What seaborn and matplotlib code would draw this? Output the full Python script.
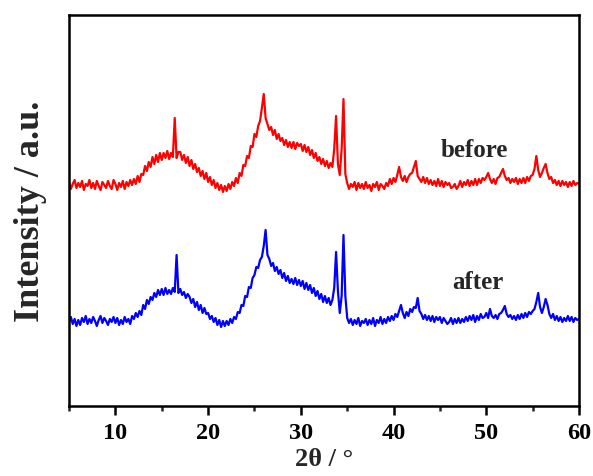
import numpy as np
import pandas as pd
import matplotlib
matplotlib.use("Agg")
import matplotlib.pyplot as plt
from matplotlib.ticker import MultipleLocator
import seaborn as sns

# 2-theta grid of the scans (degrees), 0.2 degree step from 5 to 60
two_theta = np.round(np.arange(5.0, 60.0001, 0.2), 1)

# Diffraction intensity (a.u.) of the sample before use, one row per degree
before = [
    88, 81, 86, 90, 82,
    87, 83, 89, 80, 86,
    84, 90, 82, 87, 81,
    89, 84, 80, 88, 85,
    82, 89, 84, 81, 90,
    86, 80, 87, 83, 89,
    81, 88, 84, 90, 85,
    91, 86, 94, 88, 96,
    95, 104, 99, 108, 103,
    113, 106, 115, 108, 117,
    110, 117, 112, 119, 111,
    117, 113, 152, 112, 118,
    118, 110, 115, 107, 113,
    104, 110, 101, 106, 98,
    102, 94, 99, 91, 97,
    88, 93, 85, 90, 82,
    87, 80, 85, 78, 84,
    79, 86, 81, 88, 84,
    92, 87, 97, 94, 105,
    104, 114, 112, 124, 123,
    136, 133, 144, 149, 162,
    176, 152, 146, 140, 143,
    135, 140, 131, 136, 129,
    132, 125, 130, 123, 128,
    122, 128, 121, 127, 124,
    126, 119, 125, 118, 123,
    115, 120, 112, 117, 109,
    113, 106, 111, 104, 109,
    102, 107, 103, 121, 154,
    106, 95, 121, 171, 96,
    87, 81, 86, 83, 88,
    80, 87, 82, 86, 81,
    88, 82, 85, 79, 86,
    83, 88, 80, 86, 84,
    81, 87, 84, 91, 86,
    92, 88, 95, 103, 93,
    89, 94, 88, 93, 96,
    97, 103, 109, 94, 91,
    88, 93, 87, 92, 86,
    90, 85, 89, 84, 91,
    84, 89, 83, 88, 85,
    87, 82, 83, 86, 81,
    84, 89, 83, 88, 85,
    90, 84, 89, 85, 91,
    85, 91, 87, 92, 90,
    93, 97, 91, 87, 91,
    86, 92, 93, 97, 101,
    94, 90, 92, 87, 91,
    88, 92, 86, 91, 87,
    92, 87, 93, 89, 94,
    95, 101, 114, 100, 93,
    97, 102, 106, 97, 91,
    93, 87, 90, 85, 89,
    84, 89, 85, 88, 83,
    88, 84, 89, 85, 87,
    86,
]

# Diffraction intensity (a.u.) of the sample after use
after = [
    84, 89, 82, 87, 80,
    86, 81, 88, 84, 90,
    82, 87, 83, 89, 85,
    80, 86, 90, 83, 88,
    85, 81, 87, 84, 89,
    83, 88, 81, 86, 82,
    89, 84, 87, 82, 90,
    87, 93, 89, 95, 91,
    101, 97, 106, 102, 109,
    106, 113, 109, 116, 111,
    117, 111, 118, 112, 116,
    112, 118, 114, 151, 113,
    117, 111, 114, 108, 112,
    109, 103, 107, 99, 104,
    96, 101, 93, 98, 92,
    93, 87, 90, 84, 88,
    81, 86, 79, 85, 80,
    85, 81, 87, 83, 89,
    87, 94, 93, 101, 100,
    110, 109, 119, 118, 128,
    131, 139, 138, 146, 149,
    160, 176, 151, 147, 140,
    143, 135, 139, 132, 136,
    128, 133, 125, 130, 123,
    127, 122, 128, 121, 126,
    120, 125, 117, 123, 116,
    121, 113, 118, 110, 115,
    107, 112, 104, 110, 103,
    108, 101, 106, 118, 154,
    115, 93, 110, 171, 110,
    88, 83, 87, 81, 86,
    82, 88, 80, 85, 83,
    87, 81, 86, 82, 88,
    80, 86, 83, 89, 82,
    87, 83, 89, 85, 90,
    86, 92, 89, 95, 101,
    93, 88, 94, 90, 97,
    94, 99, 98, 108, 95,
    92, 87, 91, 86, 90,
    85, 90, 84, 89, 86,
    89, 83, 88, 85, 82,
    84, 88, 82, 87, 83,
    88, 83, 87, 84, 89,
    85, 90, 86, 91, 84,
    90, 86, 92, 88, 89,
    93, 88, 97, 90, 88,
    91, 87, 92, 93, 96,
    100, 92, 89, 91, 87,
    90, 86, 91, 87, 92,
    88, 93, 89, 94, 92,
    95, 97, 104, 113, 99,
    93, 99, 107, 101, 92,
    88, 92, 86, 90, 85,
    89, 84, 88, 85, 90,
    85, 89, 84, 88, 86,
    87,
]

labels = ["before", "after"]
# vertical stacking of the patterns
stack_offset = {"before": 136, "after": 0}
colors = {"before": "#ff0000", "after": "#0000ff"}

sns.set_style("ticks")
plt.rcParams["font.family"] = ["Liberation Serif", "DejaVu Serif"]
plt.rcParams["font.weight"] = "bold"

fig = plt.figure(figsize=(5.93, 4.77), dpi=100)
ax = fig.add_axes([0.1164, 0.1468, 0.86, 0.8197])

frames = []
for name, series in zip(labels, [before, after]):
    frames.append(pd.DataFrame({
        "two_theta": two_theta,
        "intensity": np.asarray(series, dtype=float) + stack_offset[name],
        "sample": name,
    }))
df = pd.concat(frames, ignore_index=True)

for name in labels:
    sub = df[df["sample"] == name]
    sns.lineplot(data=sub, x="two_theta", y="intensity", color=colors[name],
                 linewidth=1.6, estimator=None, sort=False, ax=ax, legend=False)

ax.set_xlim(5, 60)
ax.set_ylim(0, 391)
ax.set_yticks([])
ax.xaxis.set_major_locator(MultipleLocator(10))
ax.xaxis.set_minor_locator(MultipleLocator(5))
ax.tick_params(axis="x", which="major", direction="out", length=6.5, width=1.8,
               labelsize=17.5, pad=5, colors="black")
ax.tick_params(axis="x", which="minor", direction="out", length=3.6, width=1.8)
for lab in ax.get_xticklabels():
    lab.set_fontweight("bold")
for side in ["left", "right", "top", "bottom"]:
    ax.spines[side].set_visible(True)
    ax.spines[side].set_linewidth(1.8)
    ax.spines[side].set_color("black")

ax.set_xlabel("2θ / °", fontsize=19, fontweight="bold", labelpad=3)
ax.set_ylabel("Intensity / a.u.", fontsize=26, fontweight="bold", labelpad=16)

ax.text(48.7, 256, "before", fontsize=18, fontweight="bold", ha="center", va="center")
ax.text(49.1, 124, "after", fontsize=18, fontweight="bold", ha="center", va="center")

fig.savefig("out.png", dpi=100, facecolor="white")
